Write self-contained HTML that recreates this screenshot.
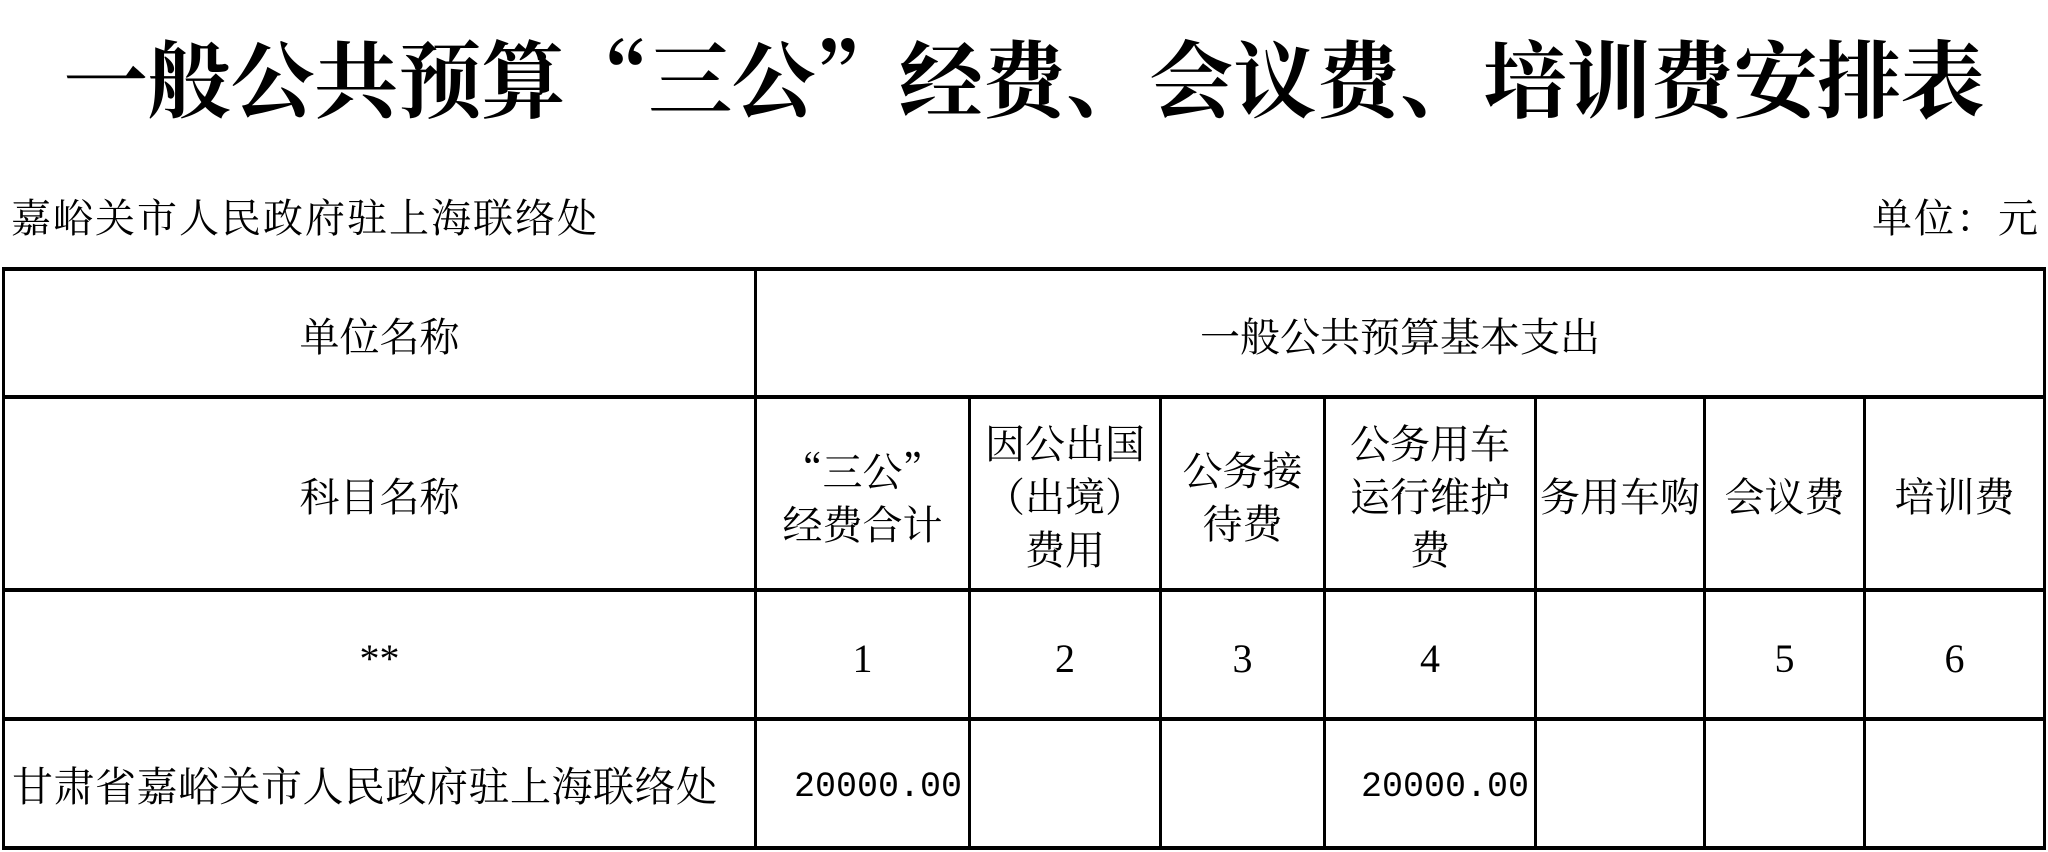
<!DOCTYPE html>
<html><head><meta charset="utf-8"><style>
body{margin:0;width:2048px;height:852px;background:#fff;position:relative;overflow:hidden;font-family:"Liberation Serif","Noto Serif CJK SC",serif;color:#000}
.t{position:absolute;left:0;top:26px;width:2048px;text-align:center;font-size:84px;font-weight:bold;line-height:100px;letter-spacing:-0.5px;font-family:"Noto Serif CJK SC",serif}
.s{position:absolute;top:194px;font-size:40px;line-height:50px;letter-spacing:2px}
.h{position:absolute;background:#000;height:4px}
.v{position:absolute;background:#000;width:3px}
.c{position:absolute;display:flex;align-items:center;justify-content:center;text-align:center;font-size:40px;line-height:53px;white-space:nowrap;overflow:hidden;padding-top:8px;box-sizing:border-box}
.m{font-family:"Liberation Mono",monospace;font-size:35px}
</style></head><body>
<div class="t">一般公共预算“三公”经费、会议费、培训费安排表</div>
<div class="s" style="left:11px">嘉峪关市人民政府驻上海联络处</div>
<div class="s" style="right:8px">单位：元</div>

<div class="h" style="left:2px;width:2044px;top:267px"></div>
<div class="h" style="left:2px;width:2044px;top:395px"></div>
<div class="h" style="left:2px;width:2044px;top:588px"></div>
<div class="h" style="left:2px;width:2044px;top:717px"></div>
<div class="h" style="left:2px;width:2044px;top:846px"></div>
<div class="v" style="left:2px;top:267px;height:583px"></div>
<div class="v" style="left:2043px;top:267px;height:583px"></div>
<div class="v" style="left:754px;top:267px;height:583px"></div>
<div class="v" style="left:968px;top:395px;height:455px"></div>
<div class="v" style="left:1159px;top:395px;height:455px"></div>
<div class="v" style="left:1323px;top:395px;height:455px"></div>
<div class="v" style="left:1534px;top:395px;height:455px"></div>
<div class="v" style="left:1703px;top:395px;height:455px"></div>
<div class="v" style="left:1863px;top:395px;height:455px"></div>

<div class="c" style="left:5px;width:749px;top:271px;height:124px">单位名称</div>
<div class="c" style="left:757px;width:1286px;top:271px;height:124px">一般公共预算基本支出</div>

<div class="c" style="left:5px;width:749px;top:399px;height:189px">科目名称</div>
<div class="c" style="left:757px;width:211px;top:399px;height:189px"><span><span style="font-family:'Noto Serif CJK SC',serif">“三公”</span><br>经费合计</span></div>
<div class="c" style="left:971px;width:188px;top:399px;height:189px">因公出国<br>（出境）<br>费用</div>
<div class="c" style="left:1162px;width:161px;top:399px;height:189px">公务接<br>待费</div>
<div class="c" style="left:1326px;width:208px;top:399px;height:189px">公务用车<br>运行维护<br>费</div>
<div class="c" style="left:1537px;width:166px;top:399px;height:189px">务用车购</div>
<div class="c" style="left:1706px;width:157px;top:399px;height:189px">会议费</div>
<div class="c" style="left:1866px;width:177px;top:399px;height:189px">培训费</div>

<div class="c" style="left:5px;width:749px;top:592px;height:125px">**</div>
<div class="c" style="left:757px;width:211px;top:592px;height:125px">1</div>
<div class="c" style="left:971px;width:188px;top:592px;height:125px">2</div>
<div class="c" style="left:1162px;width:161px;top:592px;height:125px">3</div>
<div class="c" style="left:1326px;width:208px;top:592px;height:125px">4</div>
<div class="c" style="left:1706px;width:157px;top:592px;height:125px">5</div>
<div class="c" style="left:1866px;width:177px;top:592px;height:125px">6</div>

<div class="c" style="left:12px;width:742px;top:721px;height:125px;justify-content:flex-start;font-size:41px;letter-spacing:0.5px">甘肃省嘉峪关市人民政府驻上海联络处</div>
<div class="c m" style="left:757px;width:205px;top:721px;height:125px;justify-content:flex-end">20000.00</div>
<div class="c m" style="left:1326px;width:203px;top:721px;height:125px;justify-content:flex-end">20000.00</div>
</body></html>
